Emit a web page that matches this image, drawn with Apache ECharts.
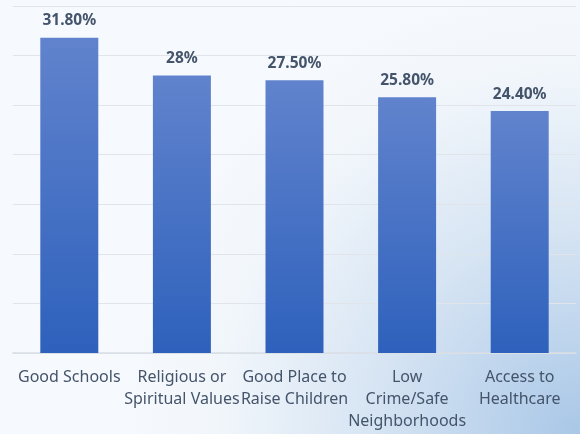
<!DOCTYPE html>
<html>
<head>
<meta charset="utf-8">
<script src="https://cdn.jsdelivr.net/npm/echarts@6/dist/echarts.min.js"></script>
<style>
  html, body { margin: 0; padding: 0; }
  #chart { width: 580px; height: 434px; }
</style>
</head>
<body>
<div id="chart"></div>
<script>
// Data
const categories = [
  'Good Schools',
  'Religious or\nSpiritual Values',
  'Good Place to\nRaise Children',
  'Low\nCrime/Safe\nNeighborhoods',
  'Access to\nHealthcare'
];
const values = [31.8, 28, 27.5, 25.8, 24.4];
const valueLabels = ['31.80%', '28%', '27.50%', '25.80%', '24.40%'];

const chart = echarts.init(document.getElementById('chart'));

const option = {
  backgroundColor: {
    type: 'radial',
    x: 1, y: 1, r: 1.05,
    colorStops: [
      { offset: 0, color: '#a9c7e7' },
      { offset: 0.45, color: '#d6e4f3' },
      { offset: 0.8, color: '#f1f6fb' },
      { offset: 1, color: '#f6f9fd' }
    ]
  },
  animation: false,
  grid: { left: 13, right: 4, top: 6, bottom: 81 },
  xAxis: {
    type: 'category',
    data: categories,
    axisLine: { lineStyle: { color: '#d9dee5', width: 1.5 } },
    axisTick: { show: false },
    axisLabel: {
      interval: 0,
      margin: 13,
      color: '#44546a',
      fontFamily: 'Noto Sans',
      fontSize: 16,
      lineHeight: 22
    }
  },
  yAxis: {
    type: 'value',
    min: 0,
    max: 35,
    interval: 5,
    axisLabel: { show: false },
    axisLine: { show: false },
    axisTick: { show: false },
    splitLine: { lineStyle: { color: '#e1e5ea', width: 1 } }
  },
  series: [
    {
      type: 'bar',
      data: values,
      barWidth: '51.5%',
      itemStyle: {
        color: {
          type: 'linear',
          x: 0, y: 0, x2: 0, y2: 1,
          colorStops: [
            { offset: 0, color: '#6183cd' },
            { offset: 1, color: '#2e61bc' }
          ]
        }
      },
      label: {
        show: true,
        position: 'top',
        distance: 9,
        color: '#44546a',
        fontFamily: 'Noto Sans',
        fontWeight: 'bold',
        fontSize: 15.5,
        formatter: (p) => valueLabels[p.dataIndex]
      }
    }
  ]
};

chart.setOption(option);

window.addEventListener('resize', () => {
  chart.resize();
});
</script>
</body>
</html>
